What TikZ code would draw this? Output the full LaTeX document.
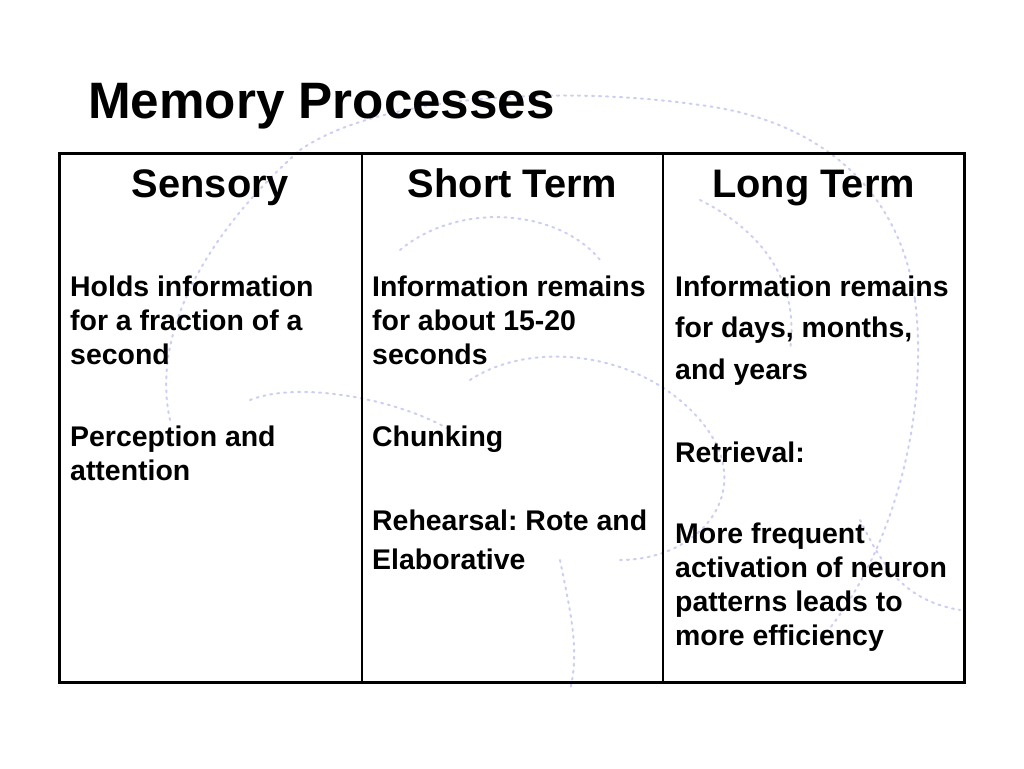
\documentclass[tikz,border=0pt]{standalone}
\usepackage{fontspec}
\setmainfont{Liberation Sans}
\definecolor{sketch}{RGB}{204,206,244}
\tikzset{
  title/.style={inner sep=0pt, font=\bfseries\fontsize{51.2}{60}\selectfont},
  head/.style={inner sep=0pt, font=\bfseries\fontsize{39.8}{46}\selectfont},
  body/.style={inner sep=0pt, align=left, font=\bfseries\frenchspacing\fontsize{28.44}{34}\selectfont},
  loose/.style={body, font=\bfseries\frenchspacing\fontsize{28.44}{41.5}\selectfont},
  mid/.style={body, font=\bfseries\frenchspacing\fontsize{28.44}{39}\selectfont},
  brain/.style={sketch, line width=2pt, dash pattern=on 2pt off 5pt, line cap=round}
}
\begin{document}
\begin{tikzpicture}[x=1pt, y=-1pt]
                \useasboundingbox[fill=white] (0,0) rectangle (1024,768);
                % faint sketch behind the table
                \draw[brain] (300,150) .. controls (380,95) and (560,85) .. (700,105) .. controls (820,120) and (900,190) .. (915,300);
                \draw[brain] (915,300) .. controls (930,420) and (890,560) .. (820,640);
                \draw[brain] (170,420) .. controls (150,330) and (210,230) .. (300,150);
                \draw[brain] (470,380) .. controls (530,340) and (640,350) .. (700,420) .. controls (760,490) and (700,560) .. (620,560);
                \draw[brain] (560,560) .. controls (570,610) and (580,650) .. (570,690);
                \draw[brain] (250,400) .. controls (300,380) and (400,400) .. (450,430);
                \draw[brain] (400,250) .. controls (460,200) and (560,210) .. (600,260);
                \draw[brain] (700,200) .. controls (760,230) and (800,280) .. (790,350);
                \draw[brain] (860,520) .. controls (880,560) and (900,600) .. (960,610);
                % title
                \node[title, anchor=base west] (ttl) at (88,118) {Memory Processes};
                % table
                \coordinate (tl) at (59,153);
                \coordinate (br) at (964,682);
                \draw[line width=1.4pt] (362,153) -- (362,682);
                \draw[line width=1.4pt] (663,153) -- (663,682);
                \draw[line width=3pt] (tl) rectangle (br);
                % column heads
                \node[head, anchor=base] (sens) at (210.5,197) {Sensory};
                \node[head, anchor=base] (short) at (512.5,197) {Short Term};
                \node[head, anchor=base] (long) at (813.5,197) {Long Term};
                % sensory (base = last line)
                \node[body, anchor=base west] (sensa) at (70,364) {Holds information\\for a fraction of a\\second};
                \node[body, anchor=base west] (sensb) at (70,480) {Perception and\\attention};
                % short term
                \node[body, anchor=base west] (shorta) at (372,364) {Information remains\\for about 15-20\\seconds};
                \node[body, anchor=base west] (shortb) at (372,446) {Chunking};
                \node[mid, anchor=base west] (shortc) at (372,569) {Rehearsal: Rote and\\Elaborative};
                % long term
                \node[loose, anchor=base west] (longa) at (675,379) {Information remains\\for days, months,\\and years};
                \node[body, anchor=base west] (longb) at (675,462) {Retrieval:};
                \node[body, anchor=base west] (longc) at (675,645) {More frequent\\activation of neuron\\patterns leads to\\more efficiency};
\end{tikzpicture}
\end{document}
